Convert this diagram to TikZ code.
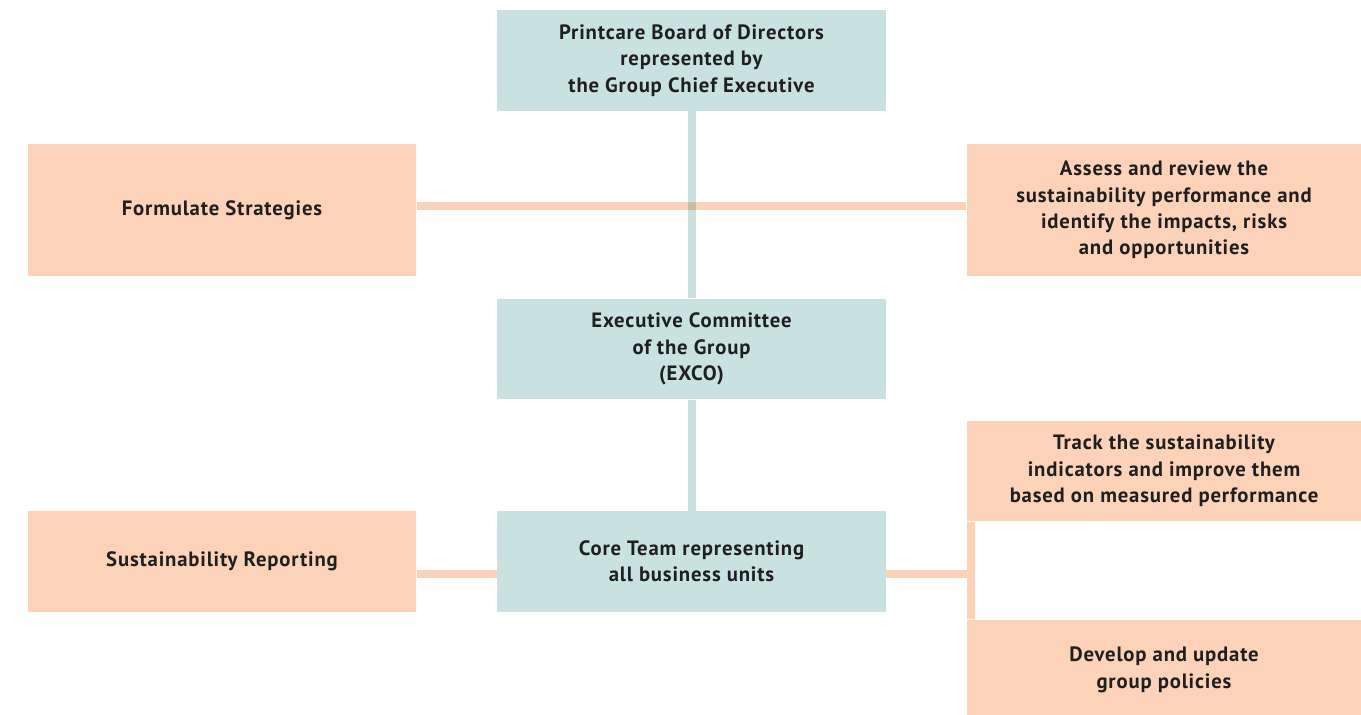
\documentclass[tikz,border=0pt]{standalone}
\usepackage{fontspec}
\setmainfont{PT Sans}[LetterSpace=4]
\usetikzlibrary{positioning}

\definecolor{boardteal}{HTML}{C9E2DF}
\definecolor{taskpeach}{HTML}{FCD3B9}
\definecolor{crossmix}{HTML}{C7BBA2}

\tikzset{
  box/.style={inner sep=2pt, align=center, font=\fontsize{11.8}{15}\selectfont\bfseries,
              text=black!88, minimum width=7.78cm},
  orgbox/.style={box, fill=boardteal, minimum height=2.02cm},
  taskbox/.style={box, fill=taskpeach, minimum height=2.64cm},
  taskbox2/.style={box, fill=taskpeach, minimum height=2.02cm, minimum width=7.9cm},
  orgline/.style={draw=boardteal, line width=0.16cm},
  taskline/.style={draw=taskpeach, line width=0.16cm}
}

\begin{document}
\begin{tikzpicture}[x=0.02cm,y=-0.02cm]
    \clip (0,0) rectangle (1361,715);
    \fill[white] (0,0) rectangle (1361,715);
    % governing bodies
    \node[orgbox] (board) at (691.5,60.5) {Printcare Board of Directors\\represented by\\the Group Chief Executive};
    \node[orgbox] (exco) at (691.5,349) {Executive Committee\\of the Group\\(EXCO)};
    \node[orgbox] (core) at (691.5,561.5) {Core Team representing\\all business units};
    % tasks
    \node[taskbox] (strategy) at (222,210) {Formulate Strategies};
    \node[taskbox, minimum width=7.9cm] (assess) at (1164,210) {Assess and review the\\sustainability performance and\\identify the impacts, risks\\and opportunities};
    \node[orgbox, fill=taskpeach] (report) at (222,561.5) {Sustainability Reporting};
    \node[taskbox2] (track) at (1164,471) {Track the sustainability\\indicators and improve them\\based on measured performance};
    \node[taskbox2] (policy) at (1164,670) {Develop and update\\group policies};
    % connectors
    \draw[taskline] ([yshift=0.08cm]strategy.east) -- ([yshift=0.08cm]assess.west);
    \draw[orgline] (board) -- (exco);
    \draw[orgline] (exco) -- (core);
    \fill[crossmix] (688,202) rectangle (696,210);
    \draw[taskline] ([yshift=-0.25cm]report.east) -- ([yshift=-0.25cm]core.west);
    \coordinate (fork) at (971,574);
    \draw[taskline] (core.east |- fork) -- (fork);
    \draw[taskline] (fork |- track.south) -- (fork |- policy.north);
\end{tikzpicture}
\end{document}
